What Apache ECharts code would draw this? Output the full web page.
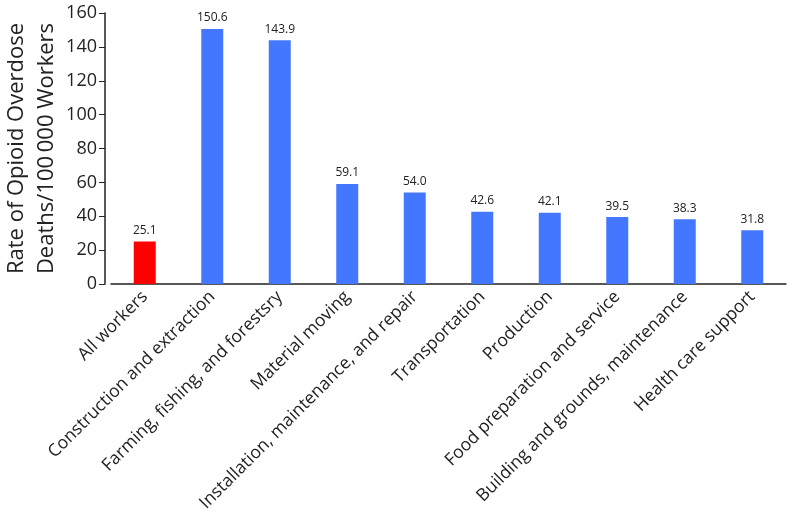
<!DOCTYPE html>
<html>
<head>
<meta charset="utf-8">
<script src="https://cdn.jsdelivr.net/npm/echarts@6/dist/echarts.min.js"></script>
<style>
  html, body { margin: 0; padding: 0; background: #fff; }
  #chart { width: 787px; height: 523px; }
</style>
</head>
<body>
<div id="chart"></div>
<script>
// occupations, first one is the reference group
var categories = [
  'All workers',
  'Construction and extraction',
  'Farming, fishing, and forestsry',
  'Material moving',
  'Installation, maintenance, and repair',
  'Transportation',
  'Production',
  'Food preparation and service',
  'Building and grounds, maintenance',
  'Health care support'
];
var rates = [25.1, 150.6, 143.9, 59.1, 54.0, 42.6, 42.1, 39.5, 38.3, 31.8];
var yTicks = [0, 20, 40, 60, 80, 100, 120, 140, 160];

var chart = echarts.init(document.getElementById('chart'));

var barData = rates.map(function (v, i) {
  return {
    value: v,
    itemStyle: { color: i === 0 ? '#ff0000' : '#4477ff' }
  };
});

chart.setOption({
  animation: false,
  textStyle: { fontFamily: 'Open Sans' },
  grid: {
    left: 111, right: 1, top: 13, bottom: 239,
    containLabel: false,
    outerBoundsMode: 'none'
  },
  xAxis: {
    type: 'category',
    data: categories,
    axisLine: { lineStyle: { color: '#222', width: 1.5 } },
    axisTick: { alignWithLabel: true, length: 6, lineStyle: { color: '#222' } },
    axisLabel: {
      interval: 0,
      rotate: 45,
      fontSize: 17.5,
      color: '#222',
      margin: 10
    }
  },
  yAxis: {
    type: 'value',
    min: yTicks[0],
    max: yTicks[yTicks.length - 1],
    interval: 20,
    offset: 6,
    name: 'Rate of Opioid Overdose\nDeaths/100\u2009000 Workers',
    nameLocation: 'middle',
    nameGap: 43,
    nameMoveOverlap: false,
    nameTextStyle: { fontSize: 22, color: '#222', lineHeight: 30 },
    splitLine: { show: false },
    axisLine: { show: true, lineStyle: { color: '#222', width: 1.5 } },
    axisTick: { show: true, length: 6, lineStyle: { color: '#222' } },
    axisLabel: { fontSize: 18, color: '#222', margin: 8 }
  },
  series: [{
    type: 'bar',
    data: barData,
    barWidth: 22,
    label: {
      show: true,
      position: 'top',
      fontSize: 12,
      color: '#222',
      formatter: function (p) { return p.value.toFixed(1); }
    }
  }]
});
</script>
</body>
</html>
